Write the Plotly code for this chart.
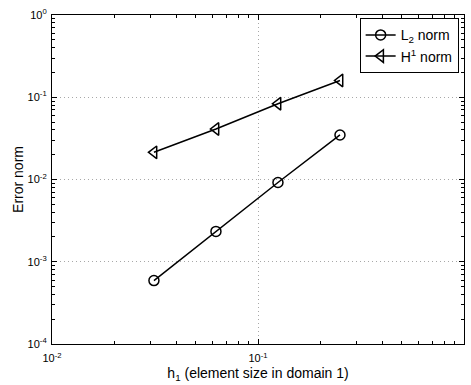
import plotly.graph_objects as go

h = [1/32, 1/16, 1/8, 1/4]
l2_err = [5.9e-4, 2.34e-3, 9.2e-3, 0.0348]
h1_err = [0.0214, 0.0411, 0.0835, 0.160]

x_tickvals = [0.01, 0.1, 1]
x_ticktext = ["10<sup>-2</sup>", "10<sup>-1</sup>", "10<sup>0</sup>"]
y_tickvals = [1e-4, 1e-3, 1e-2, 1e-1, 1]
y_ticktext = ["10<sup>-4</sup>", "10<sup>-3</sup>", "10<sup>-2</sup>", "10<sup>-1</sup>", "10<sup>0</sup>"]

def minor_vals(decades):
    return [m * d for d in decades[:-1] for m in range(2, 10)]

FONT = "Liberation Sans, Arial, sans-serif"

fig = go.Figure()
fig.add_trace(go.Scatter(
    x=h, y=l2_err, mode="lines+markers", name="L<sub>2</sub> norm",
    line=dict(color="black", width=1.5),
    marker=dict(symbol="circle-open", size=10, color="black", line=dict(width=1.5)),
))
fig.add_trace(go.Scatter(
    x=h, y=h1_err, mode="lines+markers", name="H<sup>1</sup> norm",
    line=dict(color="black", width=1.5),
    marker=dict(symbol="triangle-left-open", size=11, color="black", line=dict(width=1.5)),
))

axis_common = dict(
    type="log", showline=True, linecolor="black", linewidth=1.2, mirror="ticks",
    ticks="inside", ticklen=5, tickcolor="black", tickwidth=1,
    showgrid=True, gridcolor="#a8a8a8", griddash="1px,3px", gridwidth=1,
    zeroline=False, automargin=False,
    tickfont=dict(family=FONT, size=11, color="black"),
)

fig.update_xaxes(**axis_common, range=[-2, 0], tickvals=x_tickvals, ticktext=x_ticktext,
                 ticklabelstandoff=4,
                 minor=dict(tickmode="array", tickvals=minor_vals(x_tickvals),
                            ticks="inside", ticklen=3, tickcolor="black", tickwidth=1, showgrid=False),
                 title=dict(text="h<sub>1</sub> (element size in domain 1)",
                            font=dict(family=FONT, size=14, color="black"),
                            standoff=4))
fig.update_yaxes(**axis_common, range=[-4, 0], tickvals=y_tickvals, ticktext=y_ticktext,
                 ticklabelstandoff=2,
                 minor=dict(tickmode="array", tickvals=minor_vals(y_tickvals),
                            ticks="inside", ticklen=3, tickcolor="black", tickwidth=1, showgrid=False),
                 title=dict(text="Error norm",
                            font=dict(family=FONT, size=14, color="black"),
                            standoff=0))

fig.update_layout(
    width=471, height=385,
    margin=dict(l=52, r=7, t=15, b=41),
    paper_bgcolor="white", plot_bgcolor="white",
    legend=dict(x=0.987, y=0.99, xanchor="right", yanchor="top",
                bordercolor="black", borderwidth=1, bgcolor="white",
                font=dict(family=FONT, size=14, color="black"),
                tracegroupgap=0, itemwidth=30),
    showlegend=True,
)

fig.write_html("out.html", config={"displayModeBar": False},
               post_script="document.body.style.margin='0';")
